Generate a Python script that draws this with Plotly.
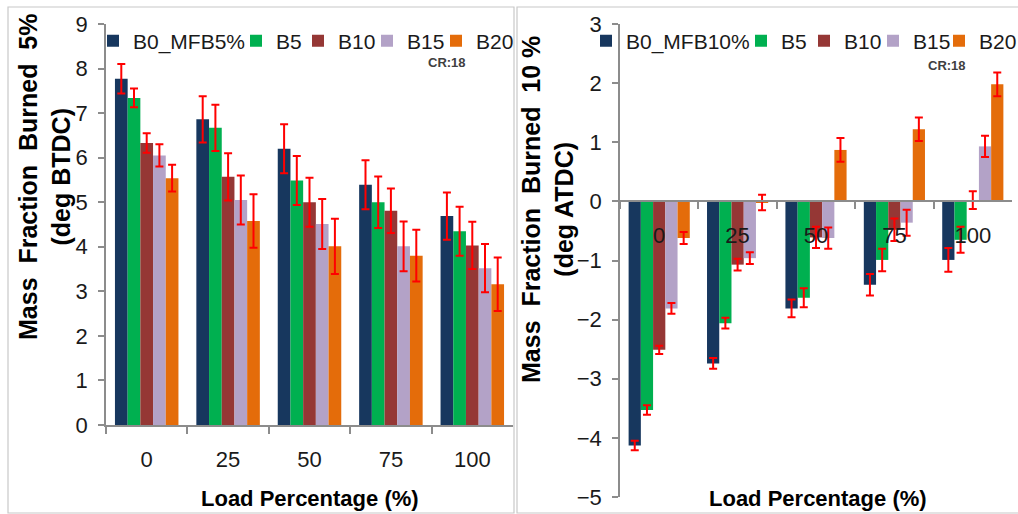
import plotly.graph_objects as go

W, H = 1018, 514

loads = ["0", "25", "50", "75", "100"]
names5 = ["B0_MFB5%", "B5", "B10", "B15", "B20"]
names10 = ["B0_MFB10%", "B5", "B10", "B15", "B20"]
colors = ["#17375E", "#00B050", "#953735", "#B3A2C7", "#E46C0A"]

# Mass fraction burned 5 % (deg BTDC) and standard deviations
mfb5_b0 = [7.77, 6.86, 6.20, 5.39, 4.69]
mfb5_b5 = [7.34, 6.67, 5.49, 5.00, 4.35]
mfb5_b10 = [6.33, 5.57, 5.00, 4.81, 4.03]
mfb5_b15 = [6.05, 5.05, 4.51, 4.01, 3.52]
mfb5_b20 = [5.54, 4.58, 4.01, 3.80, 3.16]
err5_b0 = [0.33, 0.52, 0.55, 0.55, 0.53]
err5_b5 = [0.21, 0.52, 0.55, 0.58, 0.55]
err5_b10 = [0.22, 0.53, 0.55, 0.50, 0.53]
err5_b15 = [0.25, 0.55, 0.56, 0.56, 0.54]
err5_b20 = [0.30, 0.60, 0.62, 0.58, 0.60]

# Mass fraction burned 10 % (deg ATDC) and standard deviations
mfb10_b0 = [-4.13, -2.74, -1.81, -1.41, -0.99]
mfb10_b5 = [-3.53, -2.06, -1.63, -0.99, -0.65]
mfb10_b10 = [-2.51, -1.07, -0.61, -0.48, 0.02]
mfb10_b15 = [-1.81, -0.96, -0.62, -0.36, 0.93]
mfb10_b20 = [-0.62, -0.02, 0.87, 1.22, 1.98]
err10_b0 = [0.08, 0.09, 0.15, 0.18, 0.20]
err10_b5 = [0.08, 0.09, 0.16, 0.19, 0.22]
err10_b10 = [0.07, 0.10, 0.18, 0.19, 0.15]
err10_b15 = [0.09, 0.10, 0.18, 0.22, 0.18]
err10_b20 = [0.10, 0.13, 0.20, 0.20, 0.20]

y5_ticks = list(range(0, 10))
y10_ticks = list(range(-5, 4))

left_vals = [mfb5_b0, mfb5_b5, mfb5_b10, mfb5_b15, mfb5_b20]
left_errs = [err5_b0, err5_b5, err5_b10, err5_b15, err5_b20]
right_vals = [mfb10_b0, mfb10_b5, mfb10_b10, mfb10_b15, mfb10_b20]
right_errs = [err10_b0, err10_b5, err10_b10, err10_b15, err10_b20]

FONT = "Liberation Sans, Arial, sans-serif"
AXIS_GREY = "#8c8c8c"
TEXT = "#1a1a1a"


def px(x):
    return x / W


def py(y):
    return 1 - y / H


# left edge of each legend entry (one legend per entry so each can be placed)
left_legend_x = [93, 236, 298, 367, 436]
right_legend_x = [586, 741, 804, 873, 939]

fig = go.Figure()

for i in range(5):
    fig.add_trace(go.Bar(
        x=loads, y=left_vals[i], name=names5[i],
        marker=dict(color=colors[i], line=dict(width=0)),
        error_y=dict(type="data", array=left_errs[i], color="#ff0000",
                     thickness=2, width=4),
        xaxis="x", yaxis="y",
        legend="legend" if i == 0 else f"legend{i + 1}",
    ))

for i in range(5):
    fig.add_trace(go.Bar(
        x=loads, y=right_vals[i], name=names10[i],
        marker=dict(color=colors[i], line=dict(width=0)),
        error_y=dict(type="data", array=right_errs[i], color="#ff0000",
                     thickness=2, width=4),
        xaxis="x2", yaxis="y2",
        legend=f"legend{i + 6}",
    ))

# plot areas
L_X0, L_X1, L_Y0, L_Y1 = 106, 513, 24, 425
R_X0, R_X1, R_Y0, R_Y1 = 620, 1012, 24, 497
y10_range = [min(y10_ticks), max(y10_ticks)]
zero_pos = py(R_Y1) + (0 - y10_range[0]) / (y10_range[1] - y10_range[0]) * (py(R_Y0) - py(R_Y1))

common_x = dict(
    type="category", tickson="boundaries", ticks="outside", ticklen=7,
    tickcolor=AXIS_GREY, tickwidth=1.5, showline=True, linecolor=AXIS_GREY,
    linewidth=1.5, showgrid=False, zeroline=False, automargin=False,
    tickfont=dict(family=FONT, size=22, color=TEXT), ticklabelstandoff=14,
    fixedrange=True,
)
common_y = dict(
    ticks="outside", ticklen=6, tickcolor=AXIS_GREY, tickwidth=1.5,
    showline=True, linecolor=AXIS_GREY, linewidth=1.5, showgrid=False,
    zeroline=False, dtick=1, tickfont=dict(family=FONT, size=22, color=TEXT),
    ticklabelstandoff=6, fixedrange=True, automargin=False,
)

legend_common = dict(
    orientation="h", font=dict(family=FONT, size=21, color=TEXT),
    bgcolor="rgba(0,0,0,0)", itemwidth=30, xanchor="left", yanchor="middle",
    y=py(41), itemclick=False, itemdoubleclick=False, borderwidth=0,
)

legends = {}
for i, lx in enumerate(left_legend_x + right_legend_x):
    key = "legend" if i == 0 else f"legend{i + 1}"
    legends[key] = dict(x=px(lx), **legend_common)

fig.update_layout(
    width=W, height=H, margin=dict(l=0, r=0, t=0, b=0, autoexpand=False),
    paper_bgcolor="white", plot_bgcolor="white",
    barmode="group", bargap=0.22, bargroupgap=0,
    font=dict(family=FONT, color=TEXT),
    xaxis=dict(domain=[px(L_X0), px(L_X1)], anchor="y", **common_x),
    yaxis=dict(domain=[py(L_Y1), py(L_Y0)], anchor="x",
               range=[min(y5_ticks), max(y5_ticks)], **common_y),
    xaxis2=dict(domain=[px(R_X0), px(R_X1)], anchor="free", position=zero_pos,
                **common_x),
    yaxis2=dict(domain=[py(R_Y1), py(R_Y0)], anchor="x2", range=y10_range,
                **common_y),
    showlegend=True,
    **legends,
)

title_font = dict(family=FONT, size=25, color="#000000", weight="bold")
annotations = [
    dict(text="Mass  Fraction  Burned  5%<br>(deg BTDC)", x=px(44), y=py(177),
         textangle=-90, font=title_font),
    dict(text="Mass  Fraction  Burned  10 %<br>(deg ATDC)", x=px(547), y=py(210),
         textangle=-90, font=title_font),
    dict(text="Load Percentage (%)", x=px(310), y=py(498),
         font=dict(family=FONT, size=22, color="#000000", weight="bold")),
    dict(text="Load Percentage (%)", x=px(818), y=py(498),
         font=dict(family=FONT, size=22, color="#000000", weight="bold")),
    dict(text="CR:18", x=px(447), y=py(62),
         font=dict(family=FONT, size=13, color="#404040", weight="bold")),
    dict(text="CR:18", x=px(947), y=py(65),
         font=dict(family=FONT, size=13, color="#404040", weight="bold")),
]
for a in annotations:
    a.update(xref="paper", yref="paper", showarrow=False,
             xanchor="center", yanchor="middle", align="center")
fig.update_layout(annotations=annotations)

# panel frames
border = dict(color="#c8c8c8", width=1.2)
fig.update_layout(shapes=[
    dict(type="rect", xref="paper", yref="paper", x0=px(8), x1=px(514),
         y0=py(513), y1=py(7), line=border, layer="below"),
    dict(type="rect", xref="paper", yref="paper", x0=px(517), x1=px(1030),
         y0=py(513), y1=py(7), line=border, layer="below"),
])

fig.write_html("out.html")
